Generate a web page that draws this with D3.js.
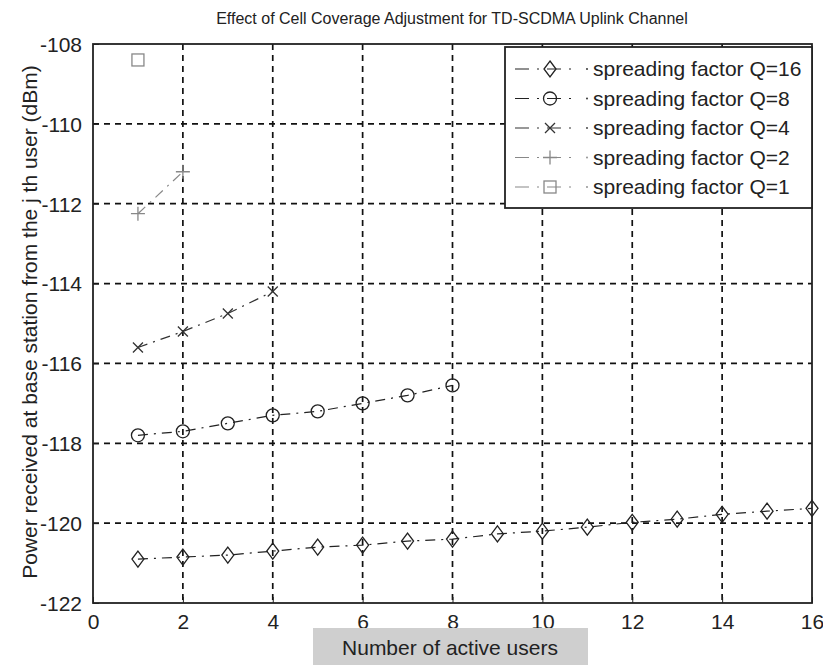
<!DOCTYPE html>
<html>
<head>
<meta charset="utf-8">
<script src="https://cdn.jsdelivr.net/npm/d3@7"></script>
<style>
  body { margin: 0; background: #fff; }
  text { font-family: "Liberation Sans", Arial, sans-serif; fill: #222; }
</style>
</head>
<body>
<script>
var users16 = [1, 2, 3, 4, 5, 6, 7, 8, 9, 10, 11, 12, 13, 14, 15, 16];
var power16 = [-120.9, -120.85, -120.8, -120.7, -120.6, -120.55, -120.45, -120.4,
               -120.27, -120.2, -120.1, -119.98, -119.9, -119.78, -119.7, -119.63];
var users8 = [1, 2, 3, 4, 5, 6, 7, 8];
var power8 = [-117.8, -117.7, -117.5, -117.3, -117.2, -117.0, -116.8, -116.55];
var users4 = [1, 2, 3, 4];
var power4 = [-115.6, -115.2, -114.75, -114.2];
var users2 = [1, 2];
var power2 = [-112.25, -111.2];
var users1 = [1];
var power1 = [-108.4];

var seriesNames = ["spreading factor Q=16", "spreading factor Q=8", "spreading factor Q=4",
                   "spreading factor Q=2", "spreading factor Q=1"];
var xTicks = [0, 2, 4, 6, 8, 10, 12, 14, 16];
var yTicks = [-122, -120, -118, -116, -114, -112, -110, -108];

var series = [
  { name: seriesNames[0], xs: users16, ys: power16, marker: "diamond", color: "#222" },
  { name: seriesNames[1], xs: users8, ys: power8, marker: "circle", color: "#222" },
  { name: seriesNames[2], xs: users4, ys: power4, marker: "cross", color: "#333" },
  { name: seriesNames[3], xs: users2, ys: power2, marker: "plus", color: "#888" },
  { name: seriesNames[4], xs: users1, ys: power1, marker: "square", color: "#888" }
];

var width = 823, height = 668;
var margin = { top: 44, right: 11, bottom: 65, left: 93 };
var w = width - margin.left - margin.right,
    h = height - margin.top - margin.bottom;

var svg = d3.select("body").append("svg")
    .attr("width", width)
    .attr("height", height);

var g = svg.append("g")
    .attr("transform", "translate(" + margin.left + "," + margin.top + ")");

var x = d3.scaleLinear().domain([0, 16]).range([0, w]);
var y = d3.scaleLinear().domain([-122, -108]).range([h, 0]);

// grid
g.append("g").selectAll("line")
    .data(xTicks.slice(1, -1))
  .enter().append("line")
    .attr("x1", function(d) { return x(d); })
    .attr("x2", function(d) { return x(d); })
    .attr("y1", 0).attr("y2", h)
    .attr("stroke", "#111").attr("stroke-width", 1.7)
    .attr("stroke-dasharray", "6,5");

g.append("g").selectAll("line")
    .data(yTicks.slice(1, -1))
  .enter().append("line")
    .attr("y1", function(d) { return y(d); })
    .attr("y2", function(d) { return y(d); })
    .attr("x1", 0).attr("x2", w)
    .attr("stroke", "#111").attr("stroke-width", 1.7)
    .attr("stroke-dasharray", "6,5");

// axes (plain hyphen for negatives, like the original)
var fmt = function(d) { return String(d); };
var xAxis = g.append("g")
    .attr("transform", "translate(0," + h + ")")
    .call(d3.axisBottom(x).tickValues(xTicks).tickFormat(fmt)
      .tickSizeInner(-6).tickSizeOuter(0).tickPadding(11));
var yAxis = g.append("g")
    .call(d3.axisLeft(y).tickValues(yTicks).tickFormat(fmt)
      .tickSizeInner(-6).tickSizeOuter(0).tickPadding(11));
[xAxis, yAxis].forEach(function(a) {
  a.selectAll("text")
      .style("font-family", "'Liberation Sans Narrow', 'Liberation Sans', sans-serif")
      .style("font-size", "21px").attr("fill", "#222");
  a.selectAll("line").attr("stroke", "#222");
  a.select(".domain").attr("stroke", "none");
});
yAxis.selectAll(".tick text").attr("dy", "0.35em");

g.append("rect")
    .attr("width", w).attr("height", h)
    .attr("fill", "none").attr("stroke", "#222").attr("stroke-width", 1.8);

// markers
function drawMarker(sel, type, color) {
  if (type === "diamond") {
    sel.append("path").attr("d", "M0,-8L6,0L0,8L-6,0Z");
  } else if (type === "circle") {
    sel.append("circle").attr("r", 6.5);
  } else if (type === "cross") {
    sel.append("path").attr("d", "M-5,-5L5,5M-5,5L5,-5");
  } else if (type === "plus") {
    sel.append("path").attr("d", "M-7,0L7,0M0,-7L0,7");
  } else if (type === "square") {
    sel.append("rect").attr("x", -6).attr("y", -6).attr("width", 12).attr("height", 12);
  }
  sel.selectAll("*").attr("fill", "none").attr("stroke", color).attr("stroke-width", 1.3);
}

var line = d3.line()
    .x(function(d) { return x(d[0]); })
    .y(function(d) { return y(d[1]); });

series.forEach(function(s) {
  var pts = s.xs.map(function(v, i) { return [v, s.ys[i]]; });
  g.append("path")
      .datum(pts)
      .attr("d", line)
      .attr("fill", "none")
      .attr("stroke", s.color)
      .attr("stroke-width", 1.2)
      .attr("stroke-dasharray", "10,6,2,6");
  g.append("g").selectAll("g")
      .data(pts)
    .enter().append("g")
      .attr("transform", function(d) { return "translate(" + x(d[0]) + "," + y(d[1]) + ")"; })
      .each(function() { drawMarker(d3.select(this), s.marker, s.color); });
});

// legend
var legend = svg.append("g").attr("transform", "translate(505,47)");
legend.append("rect")
    .attr("width", 307).attr("height", 161)
    .attr("fill", "#fff").attr("stroke", "#222").attr("stroke-width", 1.8);

var row = legend.selectAll(".row")
    .data(series)
  .enter().append("g")
    .attr("class", "row")
    .attr("transform", function(d, i) { return "translate(0," + (22 + i * 29.5) + ")"; });

row.append("line")
    .attr("x1", 10).attr("x2", 68)
    .attr("stroke", function(d) { return d.color; })
    .attr("stroke-width", 1.2)
    .attr("stroke-dasharray", "14,8,2,8");
row.append("g")
    .attr("transform", "translate(45,0)")
    .each(function(d) { drawMarker(d3.select(this), d.marker, d.color); });
row.append("circle")
    .attr("cx", 82).attr("r", 0.9)
    .attr("fill", function(d) { return d.color; });
row.append("text")
    .attr("x", 88).attr("dy", "0.35em")
    .style("font-size", "21px")
    .text(function(d) { return d.name; });

// title and labels
svg.append("text")
    .attr("x", 452).attr("y", 24)
    .attr("text-anchor", "middle")
    .style("font-size", "16px")
    .text("Effect of Cell Coverage Adjustment for TD-SCDMA Uplink Channel");

svg.append("rect")
    .attr("x", 313).attr("y", 628).attr("width", 275).attr("height", 37)
    .attr("fill", "#cfcfcf");
svg.append("text")
    .attr("x", 450).attr("y", 655)
    .attr("text-anchor", "middle")
    .style("font-size", "21px")
    .text("Number of active users");

svg.append("text")
    .attr("transform", "translate(37,322) rotate(-90)")
    .attr("text-anchor", "middle")
    .style("font-size", "21px")
    .text("Power received at base station from the j th user (dBm)");
</script>
</body>
</html>
